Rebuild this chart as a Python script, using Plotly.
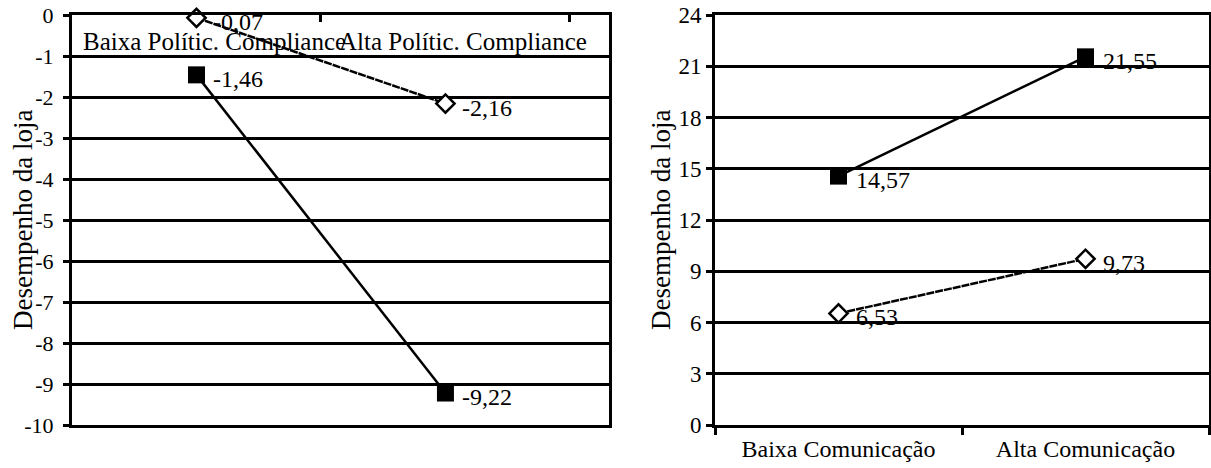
import plotly.graph_objects as go

# ---------------- data ----------------
left_categories = ["Baixa Polític. Compliance", "Alta Polític. Compliance"]
left_square = [-1.46, -9.22]
left_square_labels = ["-1,46", "-9,22"]
left_diamond = [-0.07, -2.16]
left_diamond_labels = ["-0,07", "-2,16"]
left_yticks = [0, -1, -2, -3, -4, -5, -6, -7, -8, -9, -10]
left_yticktext = ["0", "-1", "-2", "-3", "-4", "-5", "-6", "-7", "-8", "-9", "-10"]

right_categories = ["Baixa Comunicação", "Alta Comunicação"]
right_square = [14.57, 21.55]
right_square_labels = ["14,57", "21,55"]
right_diamond = [6.53, 9.73]
right_diamond_labels = ["6,53", "9,73"]
right_yticks = [0, 3, 6, 9, 12, 15, 18, 21, 24]
right_yticktext = ["0", "3", "6", "9", "12", "15", "18", "21", "24"]

y_title = "Desempenho da loja"

# ---------------- style ----------------
FONT = "Liberation Serif"
W, H = 1211, 468
ML, MR, MT, MB = 72, 2, 15, 43
PW = W - ML - MR
PH = H - MT - MB

fig = go.Figure()


def add_series(xcats, ys, labels, xa, ya, kind):
    if kind == "square":
        marker = dict(symbol="square", size=17, color="black",
                      line=dict(color="black", width=0))
        line = dict(color="black", width=2.5)
    else:
        marker = dict(symbol="diamond", size=14, color="white",
                      line=dict(color="black", width=2.5))
        line = dict(color="black", width=2.5, dash="8px,1px")
    fig.add_trace(go.Scatter(
        x=xcats, y=ys, mode="lines+markers",
        marker=marker, line=line, xaxis=xa, yaxis=ya,
        cliponaxis=False, showlegend=False, hoverinfo="skip"))
    for xc, yv, lab in zip(xcats, ys, labels):
        fig.add_annotation(
            x=xc, y=yv, text=lab, xref=xa, yref=ya,
            xanchor="left", yanchor="middle", xshift=15, yshift=-4,
            showarrow=False,
            font=dict(family=FONT, size=24, color="black"))


add_series(left_categories, left_diamond, left_diamond_labels, "x", "y", "diamond")
add_series(left_categories, left_square, left_square_labels, "x", "y", "square")
add_series(right_categories, right_diamond, right_diamond_labels, "x2", "y2", "diamond")
add_series(right_categories, right_square, right_square_labels, "x2", "y2", "square")

left_dom = [0, (609 - ML) / PW]
right_dom = [(715 - ML) / PW, 1]

yaxis_common = dict(
    showgrid=True, gridcolor="black", gridwidth=3,
    showline=True, linecolor="black", linewidth=3, mirror=True,
    zeroline=False, ticks="outside", ticklen=6, tickwidth=3, tickcolor="black",
    tickmode="array", automargin=False,
)

fig.update_layout(
    width=W, height=H,
    margin=dict(l=ML, r=MR, t=MT, b=MB, autoexpand=False),
    paper_bgcolor="white", plot_bgcolor="white",
    showlegend=False,
    font=dict(family=FONT, color="black"),
    xaxis=dict(
        domain=left_dom, anchor="y", type="category",
        categoryorder="array", categoryarray=left_categories,
        range=[-0.5, 1.657], side="top",
        showline=True, linecolor="black", linewidth=3, mirror=True,
        showgrid=False, zeroline=False,
        ticks="inside", ticklen=7, tickwidth=3, tickcolor="black",
        tickson="boundaries", showticklabels=False, automargin=False,
    ),
    yaxis=dict(domain=[0, 1], anchor="x", range=[-10, 0],
               tickvals=left_yticks, ticktext=left_yticktext,
               ticklabelstandoff=5,
               tickfont=dict(family=FONT, size=22, color="black"),
               **yaxis_common),
    xaxis2=dict(
        domain=right_dom, anchor="y2", type="category",
        categoryorder="array", categoryarray=right_categories,
        range=[-0.5, 1.5],
        showline=True, linecolor="black", linewidth=3, mirror=True,
        showgrid=False, zeroline=False,
        ticks="outside", ticklen=7, tickwidth=3, tickcolor="black",
        tickson="boundaries", automargin=False,
        tickfont=dict(family=FONT, size=24, color="black"),
    ),
    yaxis2=dict(domain=[0, 1], anchor="x2", range=[0, 24],
                tickvals=right_yticks, ticktext=right_yticktext,
                tickfont=dict(family=FONT, size=23, color="black"),
                **yaxis_common),
)

# category labels of the left chart, drawn inside the plot below the top axis
for cat in left_categories:
    fig.add_annotation(x=cat, y=1, xref="x", yref="paper", text=cat,
                       xanchor="center", yanchor="top", yshift=-11, xshift=18,
                       showarrow=False,
                       font=dict(family=FONT, size=25, color="black"))

fig.add_annotation(text=y_title, xref="paper", yref="paper",
                   x=(23 - ML) / PW, y=0.5, textangle=-90,
                   xanchor="center", yanchor="middle", showarrow=False,
                   font=dict(family=FONT, size=27, color="black"))
fig.add_annotation(text=y_title, xref="paper", yref="paper",
                   x=(661 - ML) / PW, y=0.5, textangle=-90,
                   xanchor="center", yanchor="middle", showarrow=False,
                   font=dict(family=FONT, size=27, color="black"))

fig.write_html(
    "out.html",
    config={"displayModeBar": False, "staticPlot": True},
    post_script="document.body.style.margin='0px';"
                "document.body.style.overflow='hidden';"
                "document.documentElement.style.overflow='hidden';",
)
